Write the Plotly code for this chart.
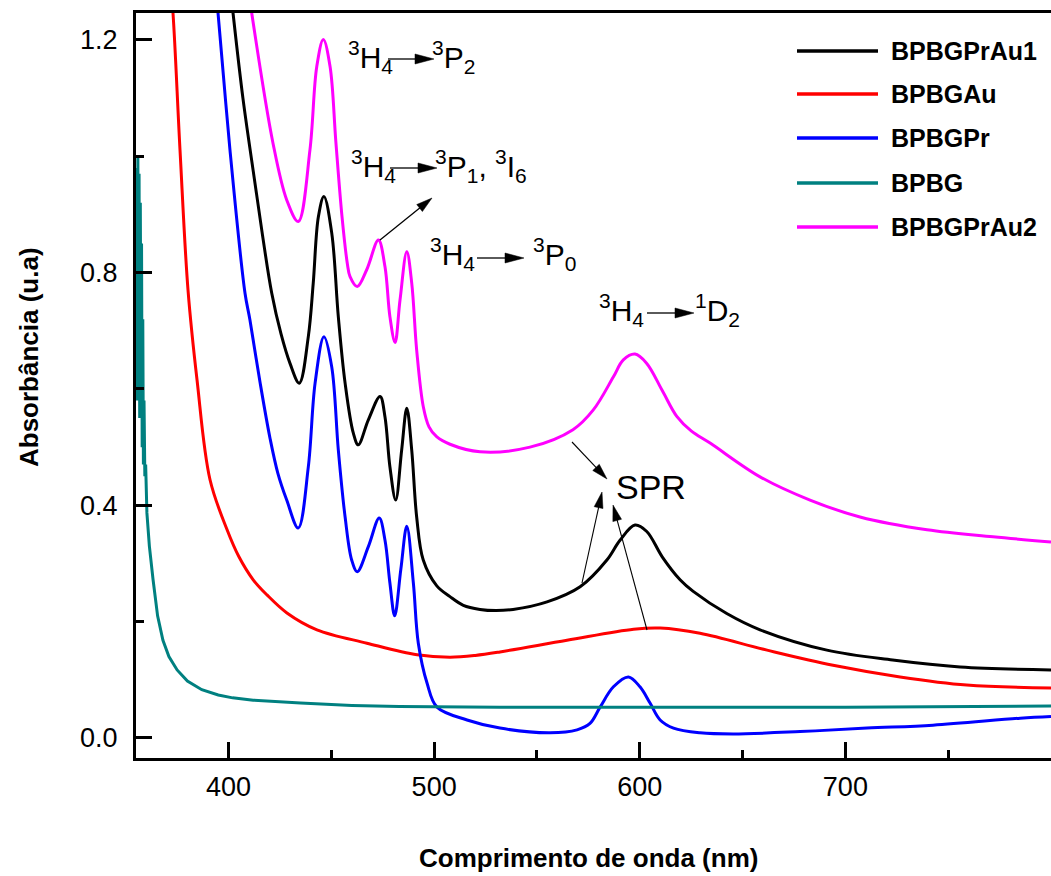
import math
import plotly.graph_objects as go

# ---------------- data ----------------
wl_au1 = [400, 402.2, 407, 412, 416.5, 421, 425.5, 429.9, 434.4, 438.8, 441.2, 443.7, 446.4, 450.2, 453.4,
          456.7, 460.7, 463.1, 468, 473.7, 476.1, 478.5, 481.3, 484.2, 486.7, 489.1, 491.5, 494.7,
          501.2, 507.7, 514.2, 522.3, 530, 538.4, 554.9, 571, 584, 590.4, 597.7, 603.4, 611, 619.6, 626,
          642.3, 658.5, 691, 723, 755.8, 800]
ab_au1 = [1.32, 1.246, 1.10, 0.975, 0.865, 0.765, 0.695, 0.644, 0.610, 0.690, 0.782, 0.896, 0.931, 0.868, 0.724,
          0.610, 0.524, 0.504, 0.547, 0.587, 0.552, 0.466, 0.409, 0.495, 0.567, 0.495, 0.380, 0.306,
          0.262, 0.243, 0.228, 0.221, 0.219, 0.221, 0.234, 0.260, 0.306, 0.340, 0.366, 0.355, 0.311, 0.272, 0.252,
          0.214, 0.186, 0.151, 0.134, 0.122, 0.117]

wl_au = [371, 373, 376.4, 380.3, 384.7, 391, 399.3, 405, 412, 418.7, 428.4, 443, 467.3, 491.7, 507.7,
         520, 532, 564.6, 597, 609.9, 629.3, 661.9, 694, 726.6, 759, 800]
ab_au = [1.33, 1.246, 1.011, 0.770, 0.615, 0.444, 0.358, 0.312, 0.272, 0.246, 0.215, 0.186, 0.163, 0.143, 0.139,
         0.142, 0.148, 0.168, 0.187, 0.189, 0.180, 0.151, 0.125, 0.105, 0.091, 0.086]

wl_pr = [392, 394.9, 400.7, 408, 410.4, 415.3, 420.2, 424, 428.3, 433.9, 438.8, 442.1, 446.4, 450.2, 453.4,
         456.7, 459.9, 462.6, 468, 473.3, 476.1, 478.5, 480.8, 483.8, 486.7, 489.9, 492.3, 496.5, 501.4,
         516, 532, 556.4, 569.5, 575.8, 580.7, 587.2, 594.5, 600.1, 605, 609.9, 616.4, 629.3, 645.4,
         678, 710.5, 742.6, 785, 800]
ab_pr = [1.34, 1.246, 1.011, 0.765, 0.719, 0.612, 0.515, 0.455, 0.409, 0.361, 0.466, 0.610, 0.690, 0.638, 0.495,
         0.380, 0.306, 0.286, 0.329, 0.378, 0.340, 0.266, 0.210, 0.290, 0.364, 0.266, 0.163, 0.095, 0.053,
         0.031, 0.017, 0.009, 0.014, 0.025, 0.053, 0.088, 0.105, 0.088, 0.060, 0.031, 0.017, 0.009, 0.007,
         0.011, 0.017, 0.022, 0.034, 0.037]

wl_g = [355.0, 355.3, 355.6, 355.9, 356.2, 356.5, 356.8, 357.1, 357.4, 357.7, 358.0, 358.3, 358.6, 358.9,
        359.3, 359.7, 360.3, 361.5, 363.3, 365.5, 368.1, 371, 375, 380, 387, 395, 402, 412, 435, 460, 483,
        532, 600, 700, 800]
ab_g = [0.62, 0.98, 0.58, 1.00, 0.70, 0.97, 0.55, 0.92, 0.62, 0.85, 0.50, 0.72, 0.47, 0.58,
        0.45, 0.47, 0.387, 0.33, 0.272, 0.21, 0.168, 0.14, 0.117, 0.098, 0.083, 0.074, 0.069, 0.065, 0.060,
        0.056, 0.054, 0.053, 0.053, 0.053, 0.055]

wl_au2 = [408, 411.3, 421.6, 428.3, 433.9, 439.6, 442.9, 446.1, 449.4, 452.2, 455.2, 457.8, 459.1, 462.6,
          467.2, 472.9, 476.1, 478.5, 481, 483.4, 486.7, 489.1, 491.5, 494.7, 497.5, 501.2, 507.7, 522.3,
          546.6, 567.5, 577.4, 587.2, 592, 597.7, 603.4, 611, 618, 625, 634.2, 658.5, 682.8, 707.1, 739.7,
          771.8, 800]
ab_au2 = [1.33, 1.246, 1.023, 0.925, 0.888, 1.011, 1.154, 1.201, 1.154, 1.025, 0.896, 0.815, 0.793, 0.776,
          0.805, 0.856, 0.810, 0.724, 0.680, 0.753, 0.836, 0.782, 0.667, 0.570, 0.535, 0.518, 0.505, 0.492,
          0.500, 0.530, 0.564, 0.621, 0.650, 0.660, 0.644, 0.597, 0.553, 0.528, 0.507, 0.449, 0.409, 0.380,
          0.358, 0.346, 0.337]

names = ["BPBGPrAu1", "BPBGAu", "BPBGPr", "BPBG", "BPBGPrAu2"]
colors = ["#000000", "#ff0000", "#0000ff", "#008080", "#ff00ff"]
series = [(wl_au1, ab_au1), (wl_au, ab_au), (wl_pr, ab_pr), (wl_g, ab_g), (wl_au2, ab_au2)]

x_ticks = [400, 500, 600, 700]
x_minor = [450, 550, 650, 750]
y_ticks = [0.0, 0.4, 0.8, 1.2]
y_ticktext = ["0.0", "0.4", "0.8", "1.2"]
y_minor = [0.2, 0.6, 1.0]

# ---------------- layout geometry ----------------
W, H = 1051, 876
L, R, T, B = 136, 1051, 13, 758
FONT = "Arial, Liberation Sans, sans-serif"


def px(x):
    return (x - L) / (R - L)


def py(y):
    return (B - y) / (B - T)


fig = go.Figure()
for (xs, ys), nm, c in zip(series, names, colors):
    fig.add_trace(go.Scatter(
        x=xs, y=ys, mode="lines", name=nm,
        line=dict(color=c, width=3, shape="linear" if nm == "BPBG" else "spline", smoothing=1.0),
        showlegend=False))

shapes = []
annotations = []


def arrow(x0, y0, x1, y1, hl=17, hw=9, lw=1.3):
    dx, dy = x1 - x0, y1 - y0
    d = math.hypot(dx, dy)
    ux, uy = dx / d, dy / d
    bx, by = x1 - ux * hl, y1 - uy * hl
    nx, ny = -uy, ux
    shapes.append(dict(type="line", xref="paper", yref="paper",
                       x0=px(x0), y0=py(y0), x1=px(bx + ux), y1=py(by + uy),
                       line=dict(color="black", width=lw)))
    p1 = (bx + nx * hw / 2, by + ny * hw / 2)
    p2 = (bx - nx * hw / 2, by - ny * hw / 2)
    path = "M {} {} L {} {} L {} {} Z".format(px(x1), py(y1), px(p1[0]), py(p1[1]), px(p2[0]), py(p2[1]))
    shapes.append(dict(type="path", xref="paper", yref="paper", path=path,
                       fillcolor="black", line=dict(color="black", width=0.5)))


def text(x, y, s, size=30, xanchor="left"):
    annotations.append(dict(xref="paper", yref="paper", x=px(x), y=py(y), text=s,
                            showarrow=False, xanchor=xanchor, yanchor="middle",
                            font=dict(family=FONT, size=size, color="black")))


# transition labels
text(346, 57, "<sup>3</sup>H<sub>4</sub>")
arrow(388, 59, 434, 59, hl=19, hw=10)
text(430, 57, "<sup>3</sup>P<sub>2</sub>")

text(349, 166, "<sup>3</sup>H<sub>4</sub>")
arrow(390, 168, 437, 168, hl=19, hw=10)
text(433, 166, "<sup>3</sup>P<sub>1</sub>, <sup>3</sup>I<sub>6</sub>")
arrow(380, 240, 432, 198, hl=16, hw=9)

text(428, 254, "<sup>3</sup>H<sub>4</sub>")
arrow(477, 258, 524, 258, hl=19, hw=10)
text(531, 254, "<sup>3</sup>P<sub>0</sub>")

text(597, 310, "<sup>3</sup>H<sub>4</sub>")
arrow(647, 313, 694, 313, hl=19, hw=10)
text(693, 310, "<sup>1</sup>D<sub>2</sub>")

# SPR
text(651, 487, "SPR", size=34, xanchor="center")
arrow(572, 442, 607, 479, hl=16, hw=9, lw=1.1)
arrow(582, 583, 602, 492, hl=16, hw=9, lw=1.1)
arrow(647, 630, 613, 505, hl=16, hw=9, lw=1.1)

# legend (drawn manually to match long line samples)
leg_y = [51, 94, 138, 183, 227]
for nm, c, yy in zip(names, colors, leg_y):
    shapes.append(dict(type="line", xref="paper", yref="paper",
                       x0=px(797), x1=px(878), y0=py(yy), y1=py(yy),
                       line=dict(color=c, width=3.5)))
    annotations.append(dict(xref="paper", yref="paper", x=px(889), y=py(yy), text="<b>%s</b>" % nm,
                            showarrow=False, xanchor="left", yanchor="middle",
                            font=dict(family=FONT, size=25, color="black")))

# axis titles
annotations.append(dict(xref="paper", yref="paper", x=px(588), y=py(858),
                        text="<b>Comprimento de onda (nm)</b>", showarrow=False,
                        xanchor="center", yanchor="middle",
                        font=dict(family=FONT, size=26, color="black")))
annotations.append(dict(xref="paper", yref="paper", x=px(29), y=py(357),
                        text="<b>Absorbância (u.a)</b>", showarrow=False, textangle=-90,
                        xanchor="center", yanchor="middle",
                        font=dict(family=FONT, size=26, color="black")))

fig.update_layout(
    width=W, height=H,
    margin=dict(l=L, r=W - R, t=T, b=H - B, pad=0),
    paper_bgcolor="white", plot_bgcolor="white",
    shapes=shapes, annotations=annotations,
    showlegend=False,
)
fig.update_xaxes(
    range=[355, 800], tickvals=x_ticks, ticks="inside", ticklen=16, tickwidth=3, tickcolor="black",
    minor=dict(tickvals=x_minor, ticks="inside", ticklen=8, tickwidth=3, tickcolor="black"),
    showline=True, linewidth=3, linecolor="black", mirror=True,
    showgrid=False, zeroline=False, ticklabelstandoff=3,
    tickfont=dict(family=FONT, size=27, color="black"),
)
fig.update_yaxes(
    range=[-0.0344, 1.2464], tickvals=y_ticks, ticktext=y_ticktext, ticks="inside", ticklen=16,
    tickwidth=3, tickcolor="black",
    minor=dict(tickvals=y_minor, ticks="inside", ticklen=8, tickwidth=3, tickcolor="black"),
    showline=True, linewidth=3, linecolor="black", mirror=False,
    showgrid=False, zeroline=False, ticklabelstandoff=10,
    tickfont=dict(family=FONT, size=27, color="black"),
)

fig.write_html("out.html")
